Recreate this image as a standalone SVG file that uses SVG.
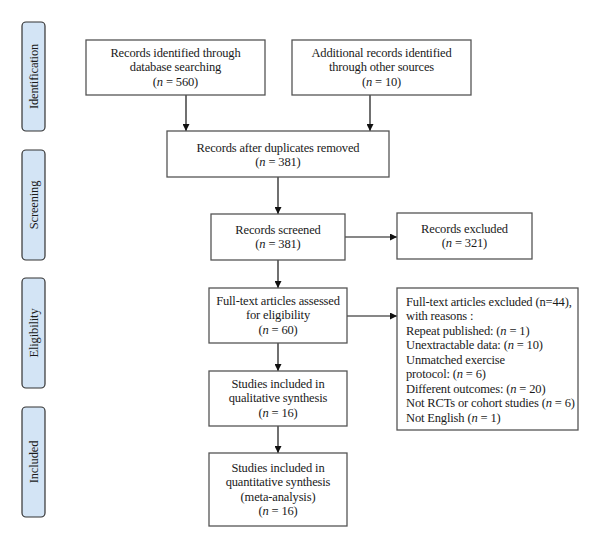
<svg xmlns="http://www.w3.org/2000/svg" width="600" height="548" viewBox="0 0 600 548">
<style>
.bx{fill:#fff;stroke:#555;stroke-width:1.3}
.ph{fill:#d3e4f5;stroke:#333;stroke-width:1.2}
text{font-family:"Liberation Serif","Times New Roman",serif;font-size:12.5px;letter-spacing:-0.15px;fill:#1a1a1a}
.c{text-anchor:middle}
.ln{stroke:#111;stroke-width:1.2;fill:none;marker-end:url(#ah)}
</style>
<defs>
<marker id="ah" viewBox="0 0 10 10" refX="10" refY="5" markerWidth="7" markerHeight="7" markerUnits="userSpaceOnUse" orient="auto">
<path d="M0,0 L10,5 L0,10 z" fill="#111"/>
</marker>
</defs>
<rect width="600" height="548" fill="#fff"/>
<g id="phase-identification"><rect class="ph" x="22" y="22" width="23" height="109" rx="4"/><text class="c" transform="translate(37.5,76.5) rotate(-90)">Identification</text></g>
<g id="phase-screening"><rect class="ph" x="22" y="150" width="23" height="110" rx="4"/><text class="c" transform="translate(37.5,205) rotate(-90)">Screening</text></g>
<g id="phase-eligibility"><rect class="ph" x="22" y="278" width="23" height="110" rx="4"/><text class="c" transform="translate(37.5,333) rotate(-90)">Eligibility</text></g>
<g id="phase-included"><rect class="ph" x="22" y="407" width="23" height="110" rx="4"/><text class="c" transform="translate(37.5,462) rotate(-90)">Included</text></g>

<g id="connectors">
<line class="ln" x1="186" y1="95" x2="186" y2="131"/>
<line class="ln" x1="370" y1="95" x2="370" y2="131"/>
<line class="ln" x1="278" y1="177" x2="278" y2="214"/>
<line class="ln" x1="345" y1="237" x2="397" y2="237"/>
<line class="ln" x1="278" y1="260" x2="278" y2="288"/>
<line class="ln" x1="347" y1="316" x2="397" y2="316"/>
<line class="ln" x1="278" y1="343" x2="278" y2="371"/>
<line class="ln" x1="278" y1="426" x2="278" y2="453"/>
</g>

<g id="n-db"><rect class="bx" x="86" y="40" width="179" height="55"/>
<text class="c" x="175.5" y="56.5">Records identified through</text>
<text class="c" x="175.5" y="71">database searching</text>
<text class="c" x="175.5" y="85.5">(<tspan font-style="italic">n</tspan> = 560)</text></g>

<g id="n-other"><rect class="bx" x="292" y="40" width="179" height="55"/>
<text class="c" x="381.5" y="56.5">Additional records identified</text>
<text class="c" x="381.5" y="71">through other sources</text>
<text class="c" x="381.5" y="85.5">(<tspan font-style="italic">n</tspan> = 10)</text></g>

<g id="n-dup"><rect class="bx" x="167" y="131" width="222" height="46"/>
<text class="c" x="278" y="151.5">Records after duplicates removed</text>
<text class="c" x="278" y="166">(<tspan font-style="italic">n</tspan> = 381)</text></g>

<g id="n-screened"><rect class="bx" x="211" y="214" width="134" height="46"/>
<text class="c" x="278" y="233.5">Records screened</text>
<text class="c" x="278" y="248">(<tspan font-style="italic">n</tspan> = 381)</text></g>

<g id="n-excluded"><rect class="bx" x="397" y="213" width="135" height="46"/>
<text class="c" x="464.5" y="232.5">Records excluded</text>
<text class="c" x="464.5" y="247">(<tspan font-style="italic">n</tspan> = 321)</text></g>

<g id="n-fulltext"><rect class="bx" x="209" y="288" width="138" height="55"/>
<text class="c" x="278" y="304.5">Full-text articles assessed</text>
<text class="c" x="278" y="319">for eligibility</text>
<text class="c" x="278" y="333.5">(<tspan font-style="italic">n</tspan> = 60)</text></g>

<g id="n-ftexcluded"><rect class="bx" x="397" y="288" width="181" height="142"/>
<text x="406" y="305.5">Full-text articles excluded (n=44),</text>
<text x="406" y="320">with reasons :</text>
<text x="406" y="334.5">Repeat published: (<tspan font-style="italic">n</tspan> = 1)</text>
<text x="406" y="349">Unextractable data: (<tspan font-style="italic">n</tspan> = 10)</text>
<text x="406" y="363.5">Unmatched exercise</text>
<text x="406" y="378">protocol: (<tspan font-style="italic">n</tspan> = 6)</text>
<text x="406" y="392.5">Different outcomes: (<tspan font-style="italic">n</tspan> = 20)</text>
<text x="406" y="407">Not RCTs or cohort studies (<tspan font-style="italic">n</tspan> = 6)</text>
<text x="406" y="421.5">Not English (<tspan font-style="italic">n</tspan> = 1)</text></g>

<g id="n-qual"><rect class="bx" x="209" y="371" width="138" height="55"/>
<text class="c" x="278" y="387.5">Studies included in</text>
<text class="c" x="278" y="402">qualitative synthesis</text>
<text class="c" x="278" y="416.5">(<tspan font-style="italic">n</tspan> = 16)</text></g>

<g id="n-quant"><rect class="bx" x="209" y="453" width="138" height="73"/>
<text class="c" x="278" y="471.5">Studies included in</text>
<text class="c" x="278" y="486">quantitative synthesis</text>
<text class="c" x="278" y="500.5">(meta-analysis)</text>
<text class="c" x="278" y="515">(<tspan font-style="italic">n</tspan> = 16)</text></g>
</svg>
